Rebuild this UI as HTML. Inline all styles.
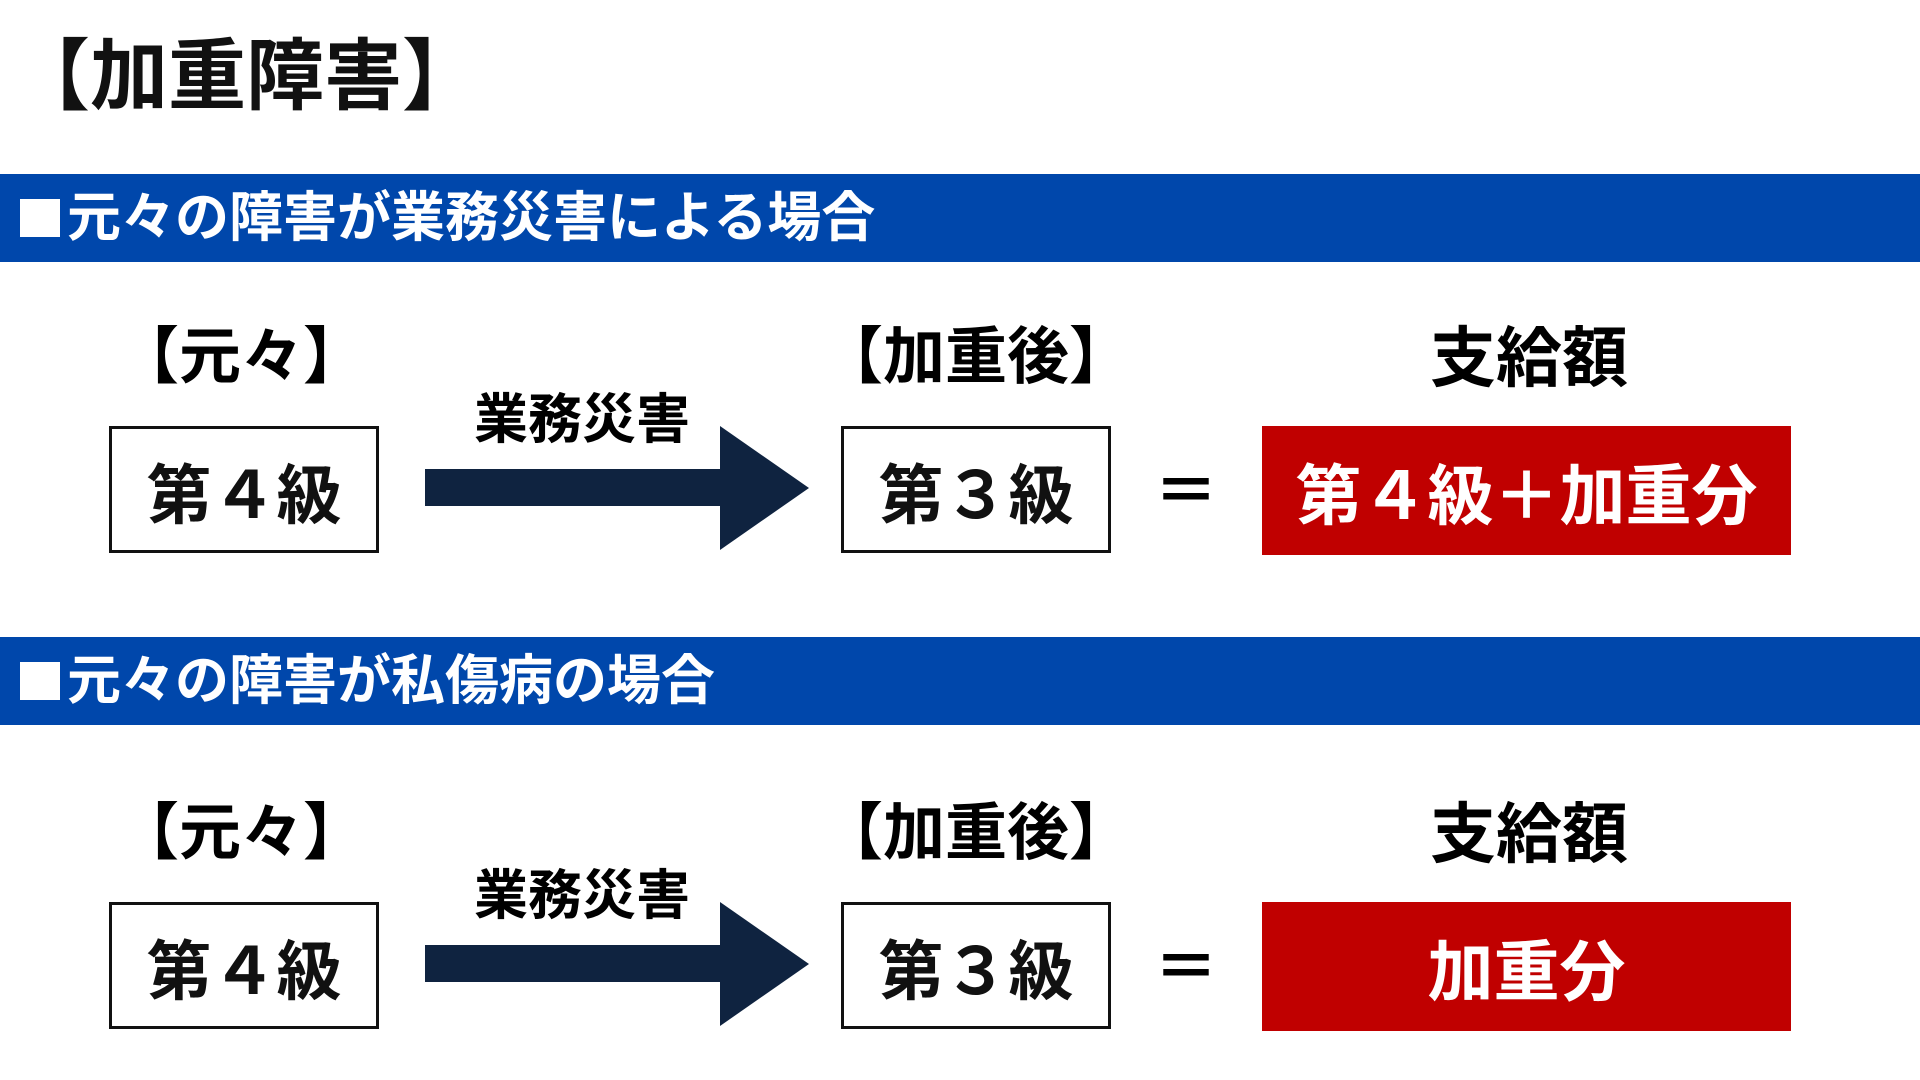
<!DOCTYPE html>
<html><head><meta charset="utf-8"><style>
body{margin:0;width:1920px;height:1080px;background:#fff;position:relative;overflow:hidden;font-family:"Liberation Sans","Noto Sans CJK JP",sans-serif;font-weight:bold;}
.a{position:absolute;}
.t{position:absolute;transform:translate(-50%,-50%);white-space:nowrap;line-height:1;}
.bar{position:absolute;left:0;width:1920px;height:88px;background:#0047AB;color:#fff;font-size:54px;line-height:88px;padding-left:67px;box-sizing:border-box;white-space:nowrap;}
.bar i{position:absolute;left:20px;top:25px;width:40px;height:38px;background:#fff;}
.box{position:absolute;border:3px solid #111;box-sizing:border-box;display:flex;align-items:center;justify-content:center;font-size:65px;color:#111;}
.red{position:absolute;background:#C00000;color:#fff;display:flex;align-items:center;justify-content:center;font-size:66px;}
</style></head><body>
<div class="a" style="left:12px;top:32px;font-size:78px;line-height:88px;color:#111;">【加重障害】</div>

<div class="bar" style="top:174px;"><i></i>元々の障害が業務災害による場合</div>
<div class="t" style="left:241px;top:358px;font-size:62px;">【元々】</div>
<div class="t" style="left:976px;top:358px;font-size:62px;">【加重後】</div>
<div class="t" style="left:1529px;top:358px;font-size:66px;">支給額</div>
<div class="t" style="left:582px;top:420px;font-size:54px;">業務災害</div>
<div class="box" style="left:109px;top:426px;width:270px;height:127px;">第４級</div>
<svg class="a" style="left:420px;top:420px" width="400" height="140"><rect x="5" y="49" width="300" height="37" fill="#0F2340"/><polygon points="300,6 389,68 300,130" fill="#0F2340"/></svg>
<div class="box" style="left:841px;top:426px;width:270px;height:127px;">第３級</div>
<div class="t" style="left:1186px;top:492px;font-size:64px;">＝</div>
<div class="red" style="left:1262px;top:426px;width:529px;height:129px;">第４級＋加重分</div>

<div class="bar" style="top:637px;"><i></i>元々の障害が私傷病の場合</div>
<div class="t" style="left:241px;top:834px;font-size:62px;">【元々】</div>
<div class="t" style="left:976px;top:834px;font-size:62px;">【加重後】</div>
<div class="t" style="left:1529px;top:834px;font-size:66px;">支給額</div>
<div class="t" style="left:582px;top:896px;font-size:54px;">業務災害</div>
<div class="box" style="left:109px;top:902px;width:270px;height:127px;">第４級</div>
<svg class="a" style="left:420px;top:896px" width="400" height="140"><rect x="5" y="49" width="300" height="37" fill="#0F2340"/><polygon points="300,6 389,68 300,130" fill="#0F2340"/></svg>
<div class="box" style="left:841px;top:902px;width:270px;height:127px;">第３級</div>
<div class="t" style="left:1186px;top:968px;font-size:64px;">＝</div>
<div class="red" style="left:1262px;top:902px;width:529px;height:129px;">加重分</div>
</body></html>
